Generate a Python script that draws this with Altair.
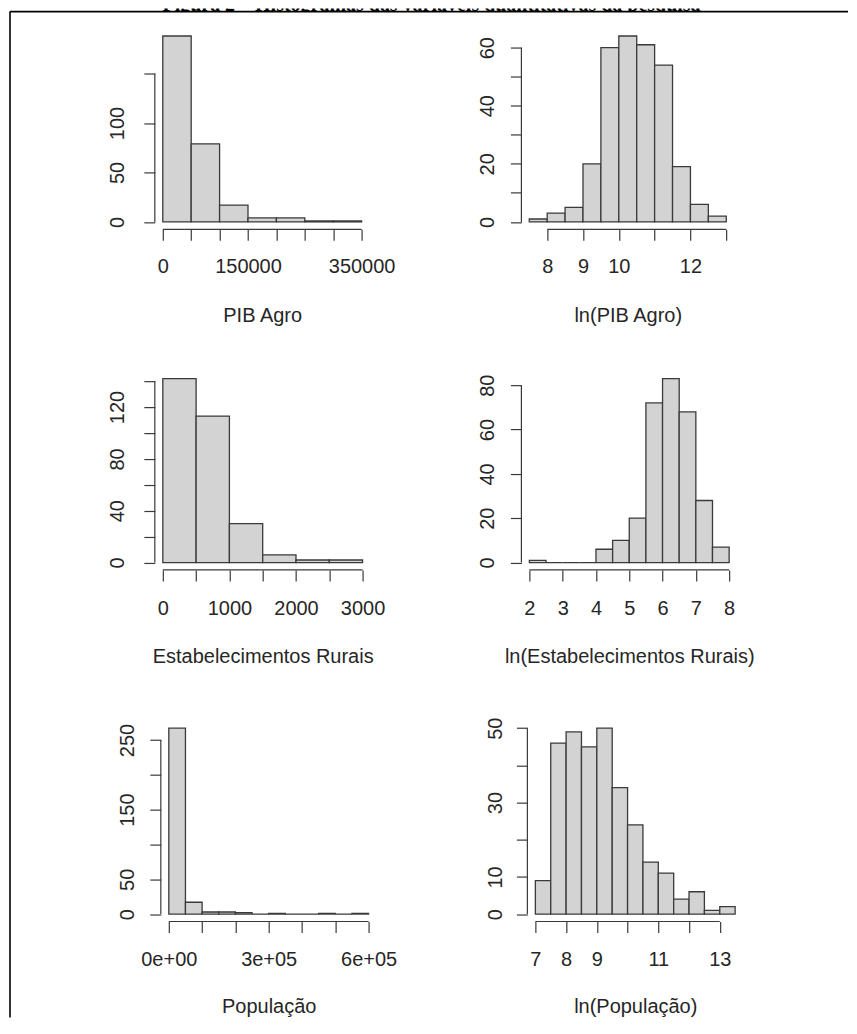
import altair as alt
import pandas as pd

# ---------------- data ----------------
title_text = "Figura 2 – Histogramas das variáveis quantitativas da pesquisa"

pib_breaks = [0, 50000, 100000, 150000, 200000, 250000, 300000, 350000]
pib_counts = [188, 79, 17, 4, 4, 1, 1]
pib_xticks = [0, 50000, 100000, 150000, 200000, 250000, 300000, 350000]
pib_xlab_vals = [0, 150000, 350000]
pib_xlab_text = ["0", "150000", "350000"]
pib_yticks = [0, 50, 100, 150]
pib_ylab_vals = [0, 50, 100]

lnpib_breaks = [7.5, 8, 8.5, 9, 9.5, 10, 10.5, 11, 11.5, 12, 12.5, 13]
lnpib_counts = [1, 3, 5, 20, 60, 64, 61, 54, 19, 6, 2]
lnpib_xticks = [8, 9, 10, 11, 12, 13]
lnpib_xlab_vals = [8, 9, 10, 12]
lnpib_xlab_text = ["8", "9", "10", "12"]
lnpib_yticks = [0, 10, 20, 30, 40, 50, 60]
lnpib_ylab_vals = [0, 20, 40, 60]

estab_breaks = [0, 500, 1000, 1500, 2000, 2500, 3000]
estab_counts = [142, 113, 30, 6, 2, 2]
estab_xticks = [0, 500, 1000, 1500, 2000, 2500, 3000]
estab_xlab_vals = [0, 1000, 2000, 3000]
estab_xlab_text = ["0", "1000", "2000", "3000"]
estab_yticks = [0, 20, 40, 60, 80, 100, 120, 140]
estab_ylab_vals = [0, 40, 80, 120]

lnestab_breaks = [2, 2.5, 3, 3.5, 4, 4.5, 5, 5.5, 6, 6.5, 7, 7.5, 8]
lnestab_counts = [1, 0, 0, 0, 6, 10, 20, 72, 83, 68, 28, 7]
lnestab_xticks = [2, 3, 4, 5, 6, 7, 8]
lnestab_xlab_vals = [2, 3, 4, 5, 6, 7, 8]
lnestab_xlab_text = ["2", "3", "4", "5", "6", "7", "8"]
lnestab_yticks = [0, 20, 40, 60, 80]
lnestab_ylab_vals = [0, 20, 40, 60, 80]

pop_breaks = [0, 50000, 100000, 150000, 200000, 250000, 300000, 350000,
              400000, 450000, 500000, 550000, 600000]
pop_counts = [267, 17, 3, 3, 2, 0, 1, 0, 0, 1, 0, 1]
pop_xticks = [0, 100000, 200000, 300000, 400000, 500000, 600000]
pop_xlab_vals = [0, 300000, 600000]
pop_xlab_text = ["0e+00", "3e+05", "6e+05"]
pop_yticks = [0, 50, 100, 150, 200, 250]
pop_ylab_vals = [0, 50, 150, 250]

lnpop_breaks = [7, 7.5, 8, 8.5, 9, 9.5, 10, 10.5, 11, 11.5, 12, 12.5, 13, 13.5]
lnpop_counts = [9, 46, 49, 45, 50, 34, 24, 14, 11, 4, 6, 1, 2]
lnpop_xticks = [7, 8, 9, 10, 11, 12, 13]
lnpop_xlab_vals = [7, 8, 9, 11, 13]
lnpop_xlab_text = ["7", "8", "9", "11", "13"]
lnpop_yticks = [0, 10, 20, 30, 40, 50]
lnpop_ylab_vals = [0, 10, 30, 50]

# ---------------- styling ----------------
FILL = "#d3d3d3"
EDGE = "#3a3a3a"
TXT = "#262626"
FS = 20
TICK = 11


def label_expr(vals, txts):
    e = "''"
    for v, t in reversed(list(zip(vals, txts))):
        e = f"abs(datum.value - ({v})) < 1e-6 ? '{t}' : ({e})"
    return e


def panel(breaks, counts, xticks, xlab_vals, xlab_txt, yticks, ylab_vals,
          title, w, h, xbase, ybase, tbase, shift=0):
    df = pd.DataFrame({"lo": breaks[:-1], "hi": breaks[1:],
                       "n": counts, "base": [0] * len(counts)})
    span = breaks[-1] - breaks[0]
    xdom = [breaks[0] - 0.04 * span, breaks[-1] + 0.04 * span]
    if shift:
        xs = alt.Scale(domain=xdom, nice=False, zero=False, range=[shift, w])
    else:
        xs = alt.Scale(domain=xdom, nice=False, zero=False)
    m = max(counts)
    ys = alt.Scale(domain=[-0.04 * m, 1.04 * m], nice=False, zero=False)

    xaxis = alt.Axis(values=xticks, tickCount=50,
                     labelExpr=label_expr(xlab_vals, xlab_txt),
                     title=title, titleY=tbase, titleBaseline="alphabetic",
                     labelBaseline="alphabetic", labelAlign="center",
                     labelPadding=xbase - TICK, domain=False, grid=False,
                     labelOverlap=False, labelFlush=False, tickSize=TICK)
    yaxis = alt.Axis(values=yticks, tickCount=50,
                     labelExpr=label_expr(ylab_vals, [str(v) for v in ylab_vals]),
                     title="", labelAngle=270, labelAlign="center",
                     labelBaseline="alphabetic", labelPadding=ybase - TICK,
                     domain=False, grid=False, labelOverlap=False,
                     labelFlush=False, tickSize=TICK, offset=-shift)

    bars = alt.Chart(df).mark_rect(fill=FILL, stroke=EDGE, strokeWidth=1.3).encode(
        x=alt.X("lo:Q", scale=xs, axis=xaxis),
        x2="hi:Q",
        y=alt.Y("n:Q", scale=ys, axis=yaxis),
        y2="base:Q",
    )
    xline = alt.Chart(pd.DataFrame({"lo": [xticks[0]], "hi": [xticks[-1]]})).mark_rule(
        color=EDGE, strokeWidth=1.2).encode(
        x=alt.X("lo:Q", scale=xs), x2="hi:Q", y=alt.value(h))
    yline = alt.Chart(pd.DataFrame({"n": [yticks[-1]], "base": [yticks[0]]})).mark_rule(
        color=EDGE, strokeWidth=1.2).encode(
        y=alt.Y("n:Q", scale=ys), y2="base:Q", x=alt.value(shift))
    return alt.layer(bars, xline, yline).properties(width=w, height=h)


def spacer(h):
    return alt.Chart(pd.DataFrame({"s": [""]})).mark_text(fontSize=1).encode(
        text="s:N", x=alt.value(0.5), y=alt.value(0.5)).properties(width=2, height=h)


p1 = panel(pib_breaks, pib_counts, pib_xticks, pib_xlab_vals, pib_xlab_text,
           pib_yticks, pib_ylab_vals, "PIB Agro", 215, 201, 43, 31, 92)
p2 = panel(lnpib_breaks, lnpib_counts, lnpib_xticks, lnpib_xlab_vals, lnpib_xlab_text,
           lnpib_yticks, lnpib_ylab_vals, "ln(PIB Agro)", 213, 201, 43, 28, 92)
p3 = panel(estab_breaks, estab_counts, estab_xticks, estab_xlab_vals, estab_xlab_text,
           estab_yticks, estab_ylab_vals, "Estabelecimentos Rurais", 216, 199, 45, 31, 93)
p4 = panel(lnestab_breaks, lnestab_counts, lnestab_xticks, lnestab_xlab_vals,
           lnestab_xlab_text, lnestab_yticks, lnestab_ylab_vals,
           "ln(Estabelecimentos Rurais)", 216, 199, 45, 28, 93)
p5 = panel(pop_breaks, pop_counts, pop_xticks, pop_xlab_vals, pop_xlab_text,
           pop_yticks, pop_ylab_vals, "População", 222, 201, 44, 27, 91, shift=6)
p6 = panel(lnpop_breaks, lnpop_counts, lnpop_xticks, lnpop_xlab_vals, lnpop_xlab_text,
           lnpop_yticks, lnpop_ylab_vals, "ln(População)", 222, 201, 44, 26, 91, shift=6)

# title strip (cut by the page edge, as in the reference) and frame
t_text = alt.Chart(pd.DataFrame({"t": [title_text]})).mark_text(
    font="Liberation Serif", fontWeight="bold", fontSize=20, align="center",
    baseline="alphabetic", clip=True, color="black").encode(
    text="t:N", x=alt.value(424), y=alt.value(2))
frame_top = alt.Chart(pd.DataFrame({"f": [0]})).mark_rule(color="black", strokeWidth=1.6).encode(
    x=alt.value(2), x2=alt.value(841), y=alt.value(3))
frame_left = alt.Chart(pd.DataFrame({"f": [0]})).mark_rule(color="black", strokeWidth=1.6).encode(
    x=alt.value(2), y=alt.value(3), y2=alt.value(1010))
title_panel = alt.layer(t_text, frame_top, frame_left).properties(width=841, height=3)

grid = alt.concat(
    spacer(201), p1, p2,
    spacer(208), p3, p4,
    spacer(201), p5, p6,
    columns=3, spacing={"row": 142, "column": 145}, bounds="flush",
)

chart = alt.vconcat(title_panel, grid, spacing=17, bounds="flush").properties(
    padding={"left": 0, "top": 0, "right": 0, "bottom": 0}
).configure(
    font="Liberation Sans"
).configure_view(
    strokeWidth=0
).configure_axis(
    labelFont="Liberation Sans", labelFontSize=FS, labelColor=TXT,
    titleFont="Liberation Sans", titleFontSize=FS, titleColor=TXT,
    titleFontWeight="normal", tickColor=EDGE, tickWidth=1.2
)

chart.save("out.html", embed_options={"renderer": "svg", "actions": False})
